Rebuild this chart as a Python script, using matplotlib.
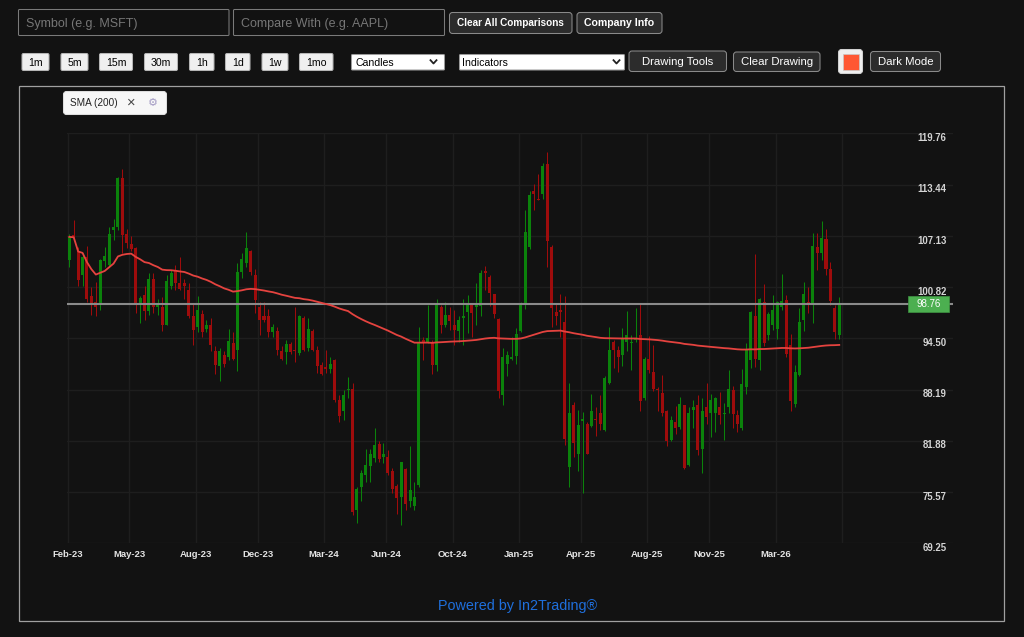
import matplotlib
matplotlib.use('Agg')
import matplotlib.pyplot as plt
import matplotlib.patches as mpatches
import matplotlib.transforms as mtransforms
import numpy as np
import pandas as pd

plt.rcParams['font.family'] = ['Liberation Sans', 'DejaVu Sans']

# weekly OHLC (Feb-23 .. mid 2026)
opens = [104.1, 107.2, 105.2, 102.3, 104.5, 99.7, 99.0, 98.8, 104.0, 103.5,
         107.9, 108.2, 114.2, 107.4, 106.1, 105.6, 98.8, 99.9, 97.9, 101.8,
         98.4, 98.4, 96.2, 100.9, 102.8, 101.3, 101.3, 100.4, 97.2, 95.9,
         97.5, 95.6, 96.2, 92.9, 91.1, 92.4, 92.2, 93.9, 93.1, 102.7,
         103.8, 105.2, 102.3, 98.4, 97.2, 97.2, 95.3, 95.4, 92.9, 92.8,
         93.8, 93.1, 92.7, 97.0, 93.3, 95.4, 93.1, 91.2, 91.0, 90.7,
         91.8, 86.9, 85.5, 88.1, 88.2, 73.4, 76.2, 77.7, 78.8, 79.7,
         81.5, 79.9, 79.9, 78.1, 76.3, 74.9, 78.4, 74.4, 73.8, 76.4,
         94.3, 94.1, 94.1, 91.2, 98.4, 96.1, 97.4, 96.2, 95.4, 97.0,
         97.7, 98.6, 98.4, 98.5, 102.8, 102.0, 100.0, 96.9, 87.5, 91.3,
         91.9, 92.3, 95.4, 98.6, 105.7, 112.6, 111.7, 112.3, 116.0, 105.7,
         97.7, 98.0, 96.5, 78.6, 86.3, 80.3, 84.3, 84.0, 83.7, 84.5,
         85.3, 83.2, 89.0, 94.0, 93.1, 92.4, 94.1, 93.9, 94.3, 94.9,
         87.1, 92.0, 90.3, 88.3, 87.8, 85.5, 82.0, 84.2, 83.6, 86.3,
         78.9, 85.7, 86.3, 80.9, 86.1, 85.3, 85.3, 86.1, 85.2, 86.0,
         88.1, 85.0, 83.5, 88.5, 91.8, 97.2, 91.8, 99.0, 94.9, 96.1,
         95.7, 98.4, 99.2, 93.7, 86.4, 90.0, 96.7, 99.0, 98.9, 105.7,
         105.0, 106.7, 103.0, 98.2, 94.9]
highs = [107.4, 109.1, 105.8, 105.0, 105.9, 100.8, 101.5, 104.3, 105.7, 108.2,
         109.2, 114.4, 115.4, 108.0, 107.1, 105.8, 99.7, 100.9, 102.5, 102.5,
         99.4, 99.6, 102.3, 102.9, 103.5, 104.5, 101.8, 101.3, 98.9, 99.7,
         98.0, 96.8, 97.0, 93.5, 93.3, 92.9, 95.7, 95.3, 103.8, 105.0,
         107.6, 105.4, 103.1, 99.0, 99.0, 98.1, 96.3, 95.9, 93.5, 94.3,
         94.0, 98.4, 97.4, 97.2, 97.0, 95.7, 93.5, 91.6, 93.1, 92.2,
         92.0, 87.5, 88.1, 89.7, 89.0, 76.2, 78.3, 80.9, 80.9, 83.4,
         81.8, 81.6, 80.7, 78.5, 76.6, 79.3, 78.5, 81.2, 76.8, 95.9,
         94.7, 98.6, 94.3, 99.4, 98.6, 99.0, 98.4, 98.0, 97.2, 99.4,
         99.8, 98.8, 101.3, 102.9, 103.4, 102.3, 100.0, 97.0, 93.3, 93.0,
         94.7, 95.8, 99.0, 110.3, 112.7, 113.5, 114.8, 116.1, 117.5, 106.0,
         98.8, 100.0, 99.7, 89.0, 86.7, 85.7, 85.4, 84.2, 87.7, 86.1,
         87.5, 89.9, 95.9, 94.3, 93.5, 95.8, 97.9, 94.9, 98.2, 98.9,
         92.2, 94.8, 93.7, 88.5, 90.0, 85.7, 84.9, 86.2, 87.3, 86.3,
         86.0, 86.9, 87.5, 87.1, 89.0, 87.7, 87.3, 87.9, 86.5, 90.6,
         88.6, 85.7, 90.7, 93.9, 97.9, 104.9, 99.5, 101.2, 97.8, 99.8,
         99.1, 102.4, 99.8, 95.0, 91.2, 98.2, 101.5, 100.8, 107.5, 107.5,
         108.9, 108.0, 103.9, 98.6, 99.6]
lows = [103.3, 106.6, 100.9, 100.9, 99.0, 97.4, 97.2, 98.0, 103.3, 103.3,
        106.6, 107.9, 105.0, 105.6, 105.2, 97.6, 96.4, 96.7, 97.4, 97.6,
        97.4, 95.4, 96.1, 100.6, 100.4, 100.4, 99.4, 97.0, 93.7, 95.3,
        94.7, 95.3, 93.0, 90.1, 89.2, 91.0, 91.8, 91.8, 90.5, 101.9,
        103.3, 102.3, 97.6, 94.9, 96.5, 94.7, 94.7, 92.4, 91.8, 91.3,
        92.6, 91.6, 92.4, 92.9, 93.0, 93.0, 90.2, 90.0, 90.2, 90.2,
        86.7, 84.2, 84.4, 87.1, 72.7, 71.8, 74.4, 76.8, 76.8, 79.3,
        79.3, 79.1, 77.7, 75.4, 72.9, 71.5, 73.3, 73.7, 73.3, 76.2,
        91.8, 93.9, 90.1, 90.5, 95.1, 95.9, 95.5, 93.7, 94.1, 93.7,
        95.1, 94.7, 96.1, 97.2, 100.4, 98.5, 97.0, 87.1, 86.3, 89.8,
        91.8, 91.3, 95.3, 98.1, 105.5, 110.3, 111.5, 111.7, 103.3, 95.9,
        96.1, 94.7, 81.4, 76.2, 79.9, 78.1, 75.5, 80.2, 83.6, 82.5,
        83.2, 83.1, 88.9, 90.8, 90.3, 91.1, 92.9, 90.6, 94.1, 85.5,
        86.9, 90.2, 88.0, 85.5, 84.9, 81.2, 81.8, 82.7, 83.3, 78.4,
        78.8, 83.4, 80.1, 77.9, 83.9, 82.4, 83.0, 84.0, 82.0, 85.3,
        83.4, 83.0, 83.2, 87.6, 90.8, 91.0, 90.6, 93.5, 94.3, 95.5,
        94.4, 98.0, 92.2, 85.5, 86.1, 89.8, 95.4, 97.6, 96.4, 102.9,
        104.2, 102.3, 98.6, 94.4, 94.4]
closes = [107.0, 106.9, 101.7, 104.5, 99.3, 98.7, 98.4, 104.1, 104.6, 107.4,
          108.2, 114.3, 107.2, 106.2, 105.5, 98.6, 99.5, 97.9, 101.8, 98.4,
          98.9, 96.1, 101.6, 102.6, 101.3, 100.6, 100.9, 97.2, 95.5, 98.0,
          95.3, 96.2, 93.7, 91.2, 92.9, 91.4, 94.2, 91.9, 102.7, 104.3,
          105.6, 102.7, 99.2, 96.7, 96.7, 95.3, 95.9, 93.1, 91.9, 93.8,
          92.8, 92.9, 97.2, 93.1, 95.6, 93.1, 91.1, 90.1, 90.7, 91.3,
          86.9, 84.9, 87.5, 88.3, 73.1, 76.0, 77.9, 78.9, 80.2, 81.4,
          79.6, 80.2, 77.9, 76.0, 74.8, 79.3, 74.1, 75.8, 75.0, 94.1,
          94.1, 94.5, 91.2, 98.6, 96.1, 97.4, 96.6, 95.5, 96.7, 97.2,
          98.7, 97.6, 98.8, 102.5, 102.5, 100.1, 97.5, 88.0, 92.2, 92.4,
          92.2, 95.0, 98.9, 107.6, 112.1, 112.3, 111.6, 115.7, 106.5, 98.2,
          97.2, 97.8, 82.1, 85.3, 81.6, 83.8, 84.6, 80.3, 85.5, 84.4,
          83.9, 89.6, 93.1, 93.1, 92.2, 94.4, 94.9, 94.1, 94.5, 86.8,
          92.0, 90.6, 88.3, 88.1, 85.3, 81.9, 84.5, 83.4, 86.4, 78.5,
          85.3, 86.1, 80.8, 85.6, 84.8, 86.9, 87.1, 85.0, 85.3, 88.3,
          85.2, 84.0, 88.9, 93.1, 97.7, 92.0, 99.4, 93.9, 97.5, 98.0,
          99.0, 99.1, 92.6, 86.8, 90.3, 96.5, 100.0, 98.6, 105.9, 105.0,
          106.8, 103.0, 99.1, 95.3, 98.76]

# time axis labels and the candle slot they sit on
tick_labels = ['Feb-23', 'May-23', 'Aug-23', 'Dec-23', 'Mar-24', 'Jun-24', 'Oct-24',
               'Jan-25', 'Apr-25', 'Aug-25', 'Nov-25', 'Mar-26', '']
tick_slots = [0, 14, 29, 43, 58, 72, 87, 102, 116, 131, 145, 160, 175]

price_ticks = [69.25, 75.57, 81.88, 88.19, 94.50, 100.82, 107.13, 113.44, 119.76]
price_labels = ['69.25', '75.57', '81.88', '88.19', '94.50', '100.82', '107.13', '113.44', '119.76']
last_price = 98.76
sma_window = 200

W, H = 1024, 637
BG = '#121212'
GREEN = '#0b820b'
RED = '#9e0c0c'

fig = plt.figure(figsize=(W / 100, H / 100), dpi=100)
fig.patch.set_facecolor(BG)

# ---- page chrome, pixel coordinates ----
ui = fig.add_axes([0, 0, 1, 1])
ui.set_xlim(0, W)
ui.set_ylim(H, 0)
ui.axis('off')


def box(x0, y0, x1, y1, fc, ec, r=3, lw=0.75):
    ui.add_patch(mpatches.FancyBboxPatch((x0, y0), x1 - x0, y1 - y0,
                                         boxstyle=f'round,pad=0,rounding_size={r}',
                                         fc=fc, ec=ec, lw=lw))


def chevron(x, y):
    ui.plot([x - 3, x, x + 3], [y - 1.8, y + 1.5, y - 1.8], color='#222222', lw=1.3)


# inputs
box(18.5, 9.5, 229, 35.5, BG, '#7a7a7a', r=1)
ui.text(26, 23.5, 'Symbol (e.g. MSFT)', color='#767676', fontsize=9.0, va='center')
box(233.5, 9.5, 444.5, 35.5, BG, '#7a7a7a', r=1)
ui.text(241, 23.5, 'Compare With (e.g. AAPL)', color='#767676', fontsize=9.0, va='center')

# dark buttons
dark_buttons = [(449.5, 12.5, 572, 33.5, 'Clear All Comparisons', 'bold', 7.2),
                (577, 12.5, 662, 33.5, 'Company Info', 'bold', 7.6),
                (629, 51, 726.5, 71.5, 'Drawing Tools', 'normal', 8.2),
                (733.5, 52, 820, 71.5, 'Clear Drawing', 'normal', 8.2),
                (870.5, 51.5, 940.5, 71.5, 'Dark Mode', 'normal', 8.2)]
for x0, y0, x1, y1, label, wt, fs in dark_buttons:
    box(x0, y0, x1, y1, '#2c2c2c', '#8a8a8a', r=3)
    ui.text((x0 + x1) / 2, (y0 + y1) / 2 + 0.5, label, color='white', fontsize=fs,
            fontweight=wt, ha='center', va='center')

# timeframe buttons
tf_buttons = [(22, 49, '1m'), (61, 88, '5m'), (99.5, 132.5, '15m'), (144.5, 177.5, '30m'),
              (189.5, 214, '1h'), (225.5, 250, '1d'), (262, 288, '1w'), (299.5, 333, '1mo')]
for x0, x1, label in tf_buttons:
    box(x0, 53.5, x1, 70.5, '#efefef', '#b5b5b5', r=1.5)
    ui.text((x0 + x1) / 2, 62.5, label, color='black', fontsize=7.6, ha='center', va='center')

# dropdowns
box(351.5, 54.5, 444.5, 70, 'white', '#9a9a9a', r=1)
ui.text(355, 62.5, 'Candles', color='black', fontsize=7.6, va='center')
chevron(433.5, 62)
box(459.5, 54.5, 624.5, 70, 'white', '#9a9a9a', r=1)
ui.text(462, 62.5, 'Indicators', color='black', fontsize=7.6, va='center')
chevron(616.5, 62)

# colour swatch
box(838.5, 49.5, 862.5, 73.5, '#efefef', '#d0d0d0', r=3)
ui.add_patch(mpatches.Rectangle((842.5, 53.5), 16.5, 16, fc='#ff5733', ec='#c8c8c8', lw=0.5))

# chart container
ui.add_patch(mpatches.Rectangle((18.5, 85.5), 985, 535, fc='none', ec='#a0a0a0', lw=0.9))

# indicator chip
box(63.5, 91.5, 166.5, 114.5, '#f7f7f7', '#dddddd', r=3)
ui.text(70, 103.5, 'SMA (200)', color='#222222', fontsize=7.2, va='center')
ui.text(131.7, 103, '×', color='#444444', fontsize=10.5, ha='center', va='center')
ui.text(153.3, 103.3, '⚙', color='#a49cc4', fontsize=8, ha='center', va='center',
        family='DejaVu Sans')

ui.text(518, 606, 'Powered by In2Trading®', color='#1f6fdc', fontsize=10.4,
        ha='center', va='center')

# ---- price chart ----
L, R, T, B = 67.3, 953, 133.3, 543.3
ax = fig.add_axes([L / W, (H - B) / H, (R - L) / W, (B - T) / H])
ax.set_facecolor('none')
for s in ax.spines.values():
    s.set_visible(False)

x = np.arange(len(closes))
o = np.array(opens)
h = np.array(highs)
l = np.array(lows)
c = np.array(closes)
cols = np.where(c >= o, GREEN, RED)

ax.vlines(x, l, h, colors=cols, lw=0.75, zorder=2)
ax.bar(x, np.maximum(np.abs(c - o), 0.12), bottom=np.minimum(o, c), width=0.68,
       color=cols, lw=0, zorder=3)

sma = pd.Series(closes).rolling(sma_window, min_periods=1).mean()
ax.plot(x, sma, color='#e5433f', lw=1.3, zorder=5)

ax.axhline(last_price, color='#8a8a8a', lw=1.5, zorder=4)

ax.set_xlim(-0.45, 199.7)
ax.set_ylim(price_ticks[0], price_ticks[-1])
ax.set_yticks(price_ticks)
ax.set_xticks(np.array(tick_slots) - 0.4)
ax.set_xticklabels(tick_labels, fontsize=6.8, fontweight='bold', color='#e4e4e4')
ax.tick_params(axis='x', length=0, pad=5)
ax.tick_params(axis='y', length=0, labelleft=False)
ax.grid(True, color='#1e1e1e', lw=1, zorder=0)
ax.set_axisbelow(True)

# price scale labels sit a little below their grid line
ytrans = mtransforms.offset_copy(
    mtransforms.blended_transform_factory(ax.transAxes, ax.transData),
    fig=fig, x=0, y=-4.7, units='dots')
for v, lab in zip(price_ticks, price_labels):
    ax.text(0.9925, v, lab, transform=ytrans, ha='right', va='center', fontsize=6.9,
            fontweight='bold', color='#d4d4d4', clip_on=False, zorder=6)

# last price tag
btrans = mtransforms.blended_transform_factory(ax.transAxes, ax.transData)
ax.add_patch(mpatches.Rectangle((0.9495, last_price - 1.0), 0.0463, 2.0, transform=btrans,
                                fc='#4caf50', ec='#3e9442', lw=0.5, zorder=7, clip_on=False))
ax.text(0.9727, last_price, f'{last_price:.2f}', transform=btrans, ha='center', va='center',
        fontsize=7, color='white', zorder=8)

fig.savefig('out.png', dpi=100, facecolor=fig.get_facecolor())
